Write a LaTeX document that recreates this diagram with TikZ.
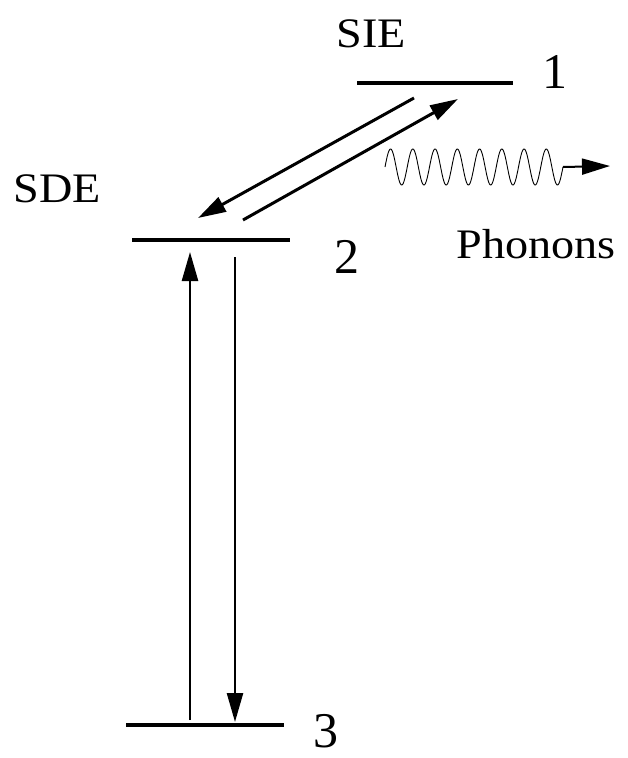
\documentclass[tikz,border=0pt]{standalone}
\usepackage{fontspec}
\setmainfont{Liberation Serif}
\newfontfamily\labfont[FakeStretch=1.1]{Liberation Serif}
\usetikzlibrary{arrows.meta}
\tikzset{
  level/.style={line width=4pt},
  trans/.style={line width=3pt,-{Triangle[length=28pt,width=16pt]}},
  vtrans/.style={line width=2.5pt,-{Triangle[length=29pt,width=16pt]}},
  wordlab/.style={inner sep=0pt,anchor=base,font=\labfont\fontsize{42}{50}\selectfont},
  numlab/.style={inner sep=0pt,text depth=0pt,anchor=base,font=\fontsize{50}{60}\selectfont},
  wave/.style={line width=0.9pt},
}
\begin{document}
\begin{tikzpicture}[x=1pt,y=-1pt]
\useasboundingbox (0,0) rectangle (627,758);
% levels
\coordinate (l1a) at (357,83); \coordinate (l1b) at (513,83);
\coordinate (l2a) at (132,240); \coordinate (l2b) at (290,240);
\coordinate (l3a) at (126,725); \coordinate (l3b) at (284,725);
\draw[level] (l1a) -- (l1b);
\draw[level] (l2a) -- (l2b);
\draw[level] (l3a) -- (l3b);
% labels
\node[wordlab] (sie) at (371,47) {SIE};
\node[wordlab] (sde) at (57,202) {SDE};
\node[wordlab] (ph) at (536,258) {Phonons};
\node[numlab] (n1) at (555,88) {1};
\node[numlab] (n2) at (347,273) {2};
\node[numlab] (n3) at (326,747) {3};
% diagonal transitions
\coordinate (d1s) at (414,98); \coordinate (d1e) at (198,218);
\coordinate (d2s) at (243,220); \coordinate (d2e) at (458,99);
\draw[trans] (d1s) -- (d1e);
\draw[trans] (d2s) -- (d2e);
% vertical transitions
\coordinate (v1s) at (190,720); \coordinate (v1e) at (190,252);
\coordinate (v2s) at (235,257); \coordinate (v2e) at (235,722);
\draw[vtrans] (v1s) -- (v1e);
\draw[vtrans] (v2s) -- (v2e);
% phonon wave
\coordinate (ws) at (385,167); \coordinate (we) at (563,167); \coordinate (wt) at (610,166);
\draw[wave] plot[domain=0:178,samples=400] ({385+\x},{167-18*sin(\x/22.25*360)});
\draw[line width=2pt,-{Triangle[length=28pt,width=16pt]}] (we) -- (wt);
\end{tikzpicture}
\end{document}
